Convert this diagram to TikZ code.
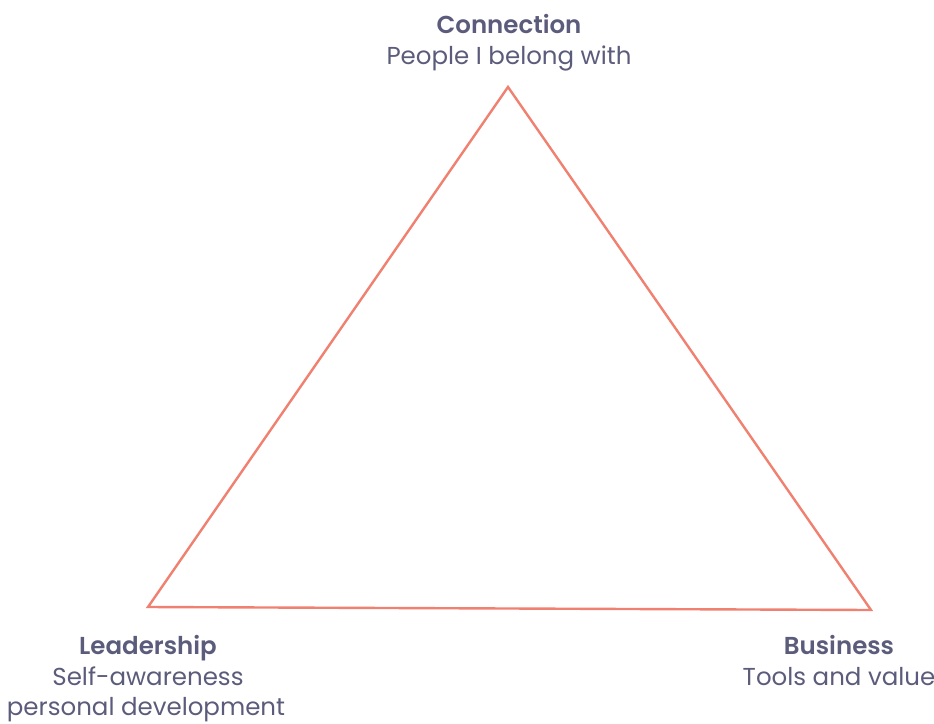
\documentclass[tikz,border=0pt]{standalone}
\usepackage{fontspec}
\setmainfont{Poppins}[BoldFont={Poppins SemiBold}]
\definecolor{edge}{HTML}{F08070}
\definecolor{ink}{HTML}{5B5B7B}
\begin{document}
\begin{tikzpicture}[x=1pt,y=-1pt,
  side/.style={draw=edge,line width=2.4pt,line join=miter},
  head/.style={text=ink,inner sep=0pt,anchor=base,font=\fontsize{24.5}{28}\selectfont\bfseries},
  sub/.style={text=ink,inner sep=0pt,anchor=base,font=\fontsize{24.5}{28}\selectfont}]
  \useasboundingbox (0,0) rectangle (934,723);
  % triangle corners
  \coordinate (top) at (508,87);
  \coordinate (left) at (148,607);
  \coordinate (right) at (871,610);
  \draw[side] (top) -- (left) -- (right) -- cycle;
  % top label
  \node[head] (conT) at (509,33) {Connection};
  \node[sub] (conS) at (509,64) {People I belong with};
  % lower left label
  \node[head] (ledT) at (148,654) {Leadership};
  \node[sub] (ledS) at (148,685) {Self-awareness};
  \node[sub] (ledU) at (146,715) {personal development};
  % lower right label
  \node[head] (busT) at (839,654) {Business};
  \node[sub] (busS) at (839,685) {Tools and value};
\end{tikzpicture}
\end{document}
